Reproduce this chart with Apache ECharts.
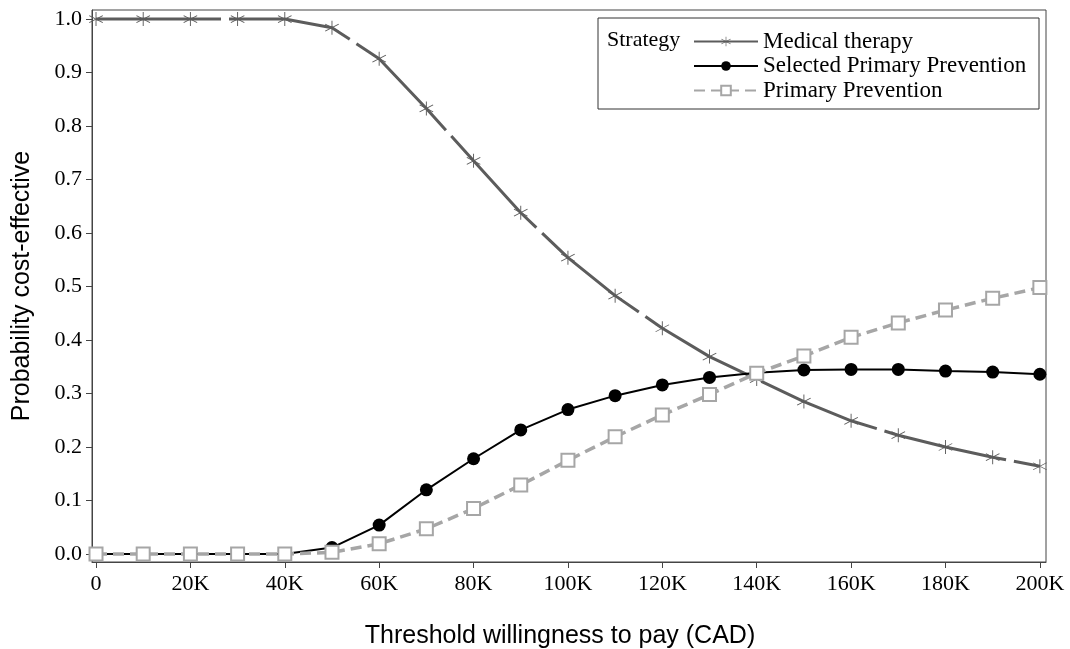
<!DOCTYPE html>
<html>
<head>
<meta charset="utf-8">
<script src="https://cdn.jsdelivr.net/npm/echarts@6/dist/echarts.min.js"></script>
<style>
  html, body { margin: 0; padding: 0; background: #fff; }
  #chart { width: 1070px; height: 649px; }
</style>
</head>
<body>
<div id="chart"></div>
<script>
// willingness-to-pay thresholds (CAD)
const thresholds = [0, 10000, 20000, 30000, 40000, 50000, 60000, 70000, 80000, 90000, 100000,
  110000, 120000, 130000, 140000, 150000, 160000, 170000, 180000, 190000, 200000];

// probability cost-effective per strategy
const medicalTherapy = [1, 1, 1, 1, 1, 0.984, 0.926, 0.833, 0.735, 0.638, 0.554,
  0.483, 0.422, 0.369, 0.327, 0.285, 0.249, 0.222, 0.200, 0.181, 0.164];
const selectedPrevention = [0, 0, 0, 0, 0, 0.012, 0.054, 0.120, 0.178, 0.232, 0.270,
  0.296, 0.316, 0.330, 0.339, 0.344, 0.345, 0.345, 0.342, 0.340, 0.336];
const primaryPrevention = [0, 0, 0, 0, 0, 0.003, 0.019, 0.047, 0.085, 0.129, 0.175,
  0.219, 0.260, 0.298, 0.338, 0.370, 0.405, 0.432, 0.456, 0.478, 0.498];

// tick positions
const xTicks = [0, 20000, 40000, 60000, 80000, 100000, 120000, 140000, 160000, 180000, 200000];
const yTicks = [0, 0.1, 0.2, 0.3, 0.4, 0.5, 0.6, 0.7, 0.8, 0.9, 1.0];

const serif = "'Liberation Serif', 'DejaVu Serif', serif";
const sans = "'Liberation Sans', Arial, sans-serif";

// asterisk marker (vertical bar + two diagonals)
const asterisk = "path://M9.4 0 L10.6 0 L10.6 20 L9.4 20 Z " +
  "M18.96 5.52 L1.64 15.52 L1.04 14.48 L18.36 4.48 Z " +
  "M1.04 5.52 L18.36 15.52 L18.96 14.48 L1.64 4.48 Z";

const pairs = arr => thresholds.map((t, i) => [t, arr[i]]);

const chart = echarts.init(document.getElementById("chart"));
chart.setOption({
  animation: false,
  grid: {
    left: 92, right: 24, top: 10, bottom: 87,
    outerBoundsMode: "none",
    containLabel: false,
    show: true, borderColor: "#444", borderWidth: 1
  },
  xAxis: {
    type: "value",
    min: -850,
    max: 201300,
    name: "Threshold willingness to pay (CAD)",
    nameLocation: "middle",
    nameGap: 62,
    nameTextStyle: { fontFamily: sans, fontSize: 25, color: "#000", padding: [0, 18, 0, 0] },
    axisLine: { onZero: false, lineStyle: { color: "#444" } },
    axisTick: { show: true, length: 6, customValues: xTicks, lineStyle: { color: "#444" } },
    axisLabel: {
      customValues: xTicks,
      fontFamily: serif, fontSize: 22, color: "#000", margin: 11,
      formatter: v => (v === 0 ? "0" : v / 1000 + "K")
    },
    splitLine: { show: false }
  },
  yAxis: {
    type: "value",
    min: -0.015,
    max: 1.017,
    name: "Probability cost-effective",
    nameLocation: "middle",
    nameGap: 57,
    nameTextStyle: { fontFamily: sans, fontSize: 25, color: "#000" },
    axisLine: { show: true, onZero: false, lineStyle: { color: "#444" } },
    axisTick: { show: true, length: 6, customValues: yTicks, lineStyle: { color: "#444" } },
    axisLabel: {
      customValues: yTicks,
      fontFamily: serif, fontSize: 22, color: "#000", margin: 10,
      formatter: v => v.toFixed(1)
    },
    splitLine: { show: false }
  },
  legend: {
    orient: "vertical",
    left: 688,
    top: 25,
    itemWidth: 64,
    itemHeight: 12,
    itemGap: 1.5,
    textStyle: { fontFamily: serif, fontSize: 23, color: "#000", lineHeight: 23 },
    data: ["Medical therapy", "Selected Primary Prevention", "Primary Prevention"]
  },
  graphic: [
    {
      type: "rect",
      z: 3,
      shape: { x: 598, y: 18, width: 441, height: 91 },
      style: { fill: "none", stroke: "#333", lineWidth: 1 }
    },
    {
      type: "text",
      z: 3,
      x: 607,
      y: 29,
      style: { text: "Strategy", font: "22px " + serif, fill: "#000" }
    }
  ],
  series: [
    {
      name: "Medical therapy",
      type: "line",
      data: pairs(medicalTherapy),
      symbol: asterisk,
      symbolSize: 14,
      itemStyle: { color: "#5c5c5c" },
      lineStyle: { color: "#5c5c5c", width: 3, type: [125, 8] },
      z: 2
    },
    {
      name: "Selected Primary Prevention",
      type: "line",
      data: pairs(selectedPrevention),
      symbol: "circle",
      symbolSize: 13,
      itemStyle: { color: "#000" },
      lineStyle: { color: "#000", width: 2 },
      z: 3
    },
    {
      name: "Primary Prevention",
      type: "line",
      data: pairs(primaryPrevention),
      symbol: "emptyRect",
      symbolSize: 13,
      itemStyle: { color: "#a6a6a6", borderColor: "#a6a6a6", borderWidth: 1.2 },
      lineStyle: { color: "#a6a6a6", width: 3.5, type: [11, 6] },
      z: 4
    }
  ]
});
window.addEventListener("resize", () => chart.resize());
</script>
</body>
</html>
